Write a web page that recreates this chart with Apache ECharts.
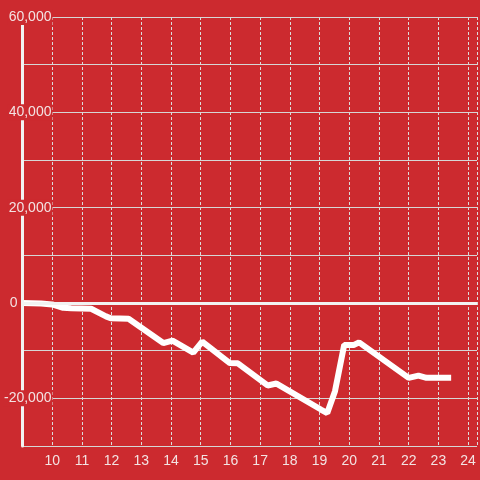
<!DOCTYPE html>
<html>
<head>
<meta charset="utf-8">
<script src="https://cdn.jsdelivr.net/npm/echarts@6/dist/echarts.min.js"></script>
<style>html,body{margin:0;padding:0;background:#cc2a2f}#c{width:480px;height:480px}</style>
</head>
<body>
<div id="c"></div>
<script>
const xValues = [9.0, 9.63, 10.0, 10.37, 10.64, 11.31, 11.81, 11.97, 12.57, 13.74, 14.05, 14.75, 15.05, 15.98, 16.25, 17.25, 17.55, 19.06, 19.26, 19.52, 19.83, 20.16, 20.33, 22.0, 22.33, 22.6, 23.43];
const yValues = [0, -100, -300, -1000, -1100, -1200, -2800, -3200, -3300, -8400, -7900, -10400, -8100, -12600, -12650, -17300, -16900, -22400, -23100, -18500, -8800, -8800, -8250, -15700, -15250, -15700, -15700];
const yTicks = [-30000, -20000, -10000, 0, 10000, 20000, 30000, 40000, 50000, 60000];
const xTicks = [10, 11, 12, 13, 14, 15, 16, 17, 18, 19, 20, 21, 22, 23, 24];

const RED = '#cc2a2f';
const FONT = 'Liberation Sans, Arial, sans-serif';
const chart = echarts.init(document.getElementById('c'));
const yScale = { type: 'value', min: yTicks[0], max: yTicks[yTicks.length - 1], interval: 10000 };
chart.setOption({
  backgroundColor: RED,
  animation: false,
  grid: { left: 21, right: 0, top: 17, bottom: 34 },
  xAxis: {
    type: 'value', min: 9, max: 24.3, interval: 1,
    axisLine: { show: true, lineStyle: { color: '#d8d8d8', width: 1 } },
    axisTick: { show: false },
    axisLabel: {
      color: '#f3e3e3', fontSize: 14, fontFamily: FONT, margin: 8,
      formatter: v => xTicks.indexOf(v) >= 0 ? String(v) : ''
    },
    splitLine: { show: true, lineStyle: { color: '#dcdcdc', width: 1, type: [3, 2] } }
  },
  yAxis: [
    Object.assign({}, yScale, {
      z: 0,
      axisLine: { show: false },
      axisTick: { show: false },
      axisLabel: { show: false },
      splitLine: { show: true, lineStyle: { color: '#d6d6d6', width: 1 } }
    }),
    Object.assign({}, yScale, {
      z: 3,
      position: 'left',
      axisLine: { show: true, lineStyle: { color: '#f2f2f2', width: 3 } },
      axisTick: { show: false },
      splitLine: { show: false },
      axisLabel: {
        color: '#f3e3e3', fontSize: 14, fontFamily: FONT,
        align: 'right', margin: -30,
        formatter: v => {
          if (v === 0) return '{z|0}';
          if (v % 20000 === 0) return '{n|' + v.toLocaleString('en-US') + '}';
          return '';
        },
        rich: {
          n: { backgroundColor: RED, padding: [1, 1, 1, 1], color: '#f3e3e3', fontSize: 14, fontFamily: FONT },
          z: { padding: [0, 35, 0, 0], color: '#f3e3e3', fontSize: 14, fontFamily: FONT }
        }
      }
    })
  ],
  series: [{
    type: 'line',
    yAxisIndex: 0,
    data: xValues.map((x, i) => [x, yValues[i]]),
    showSymbol: false,
    lineStyle: { color: '#ffffff', width: 6 },
    z: 2,
    markLine: {
      silent: true, symbol: ['none', 'none'], label: { show: false },
      lineStyle: { color: '#f2f2f2', width: 3, type: 'solid' },
      data: [{ yAxis: 0 }]
    }
  }]
});
</script>
</body>
</html>
